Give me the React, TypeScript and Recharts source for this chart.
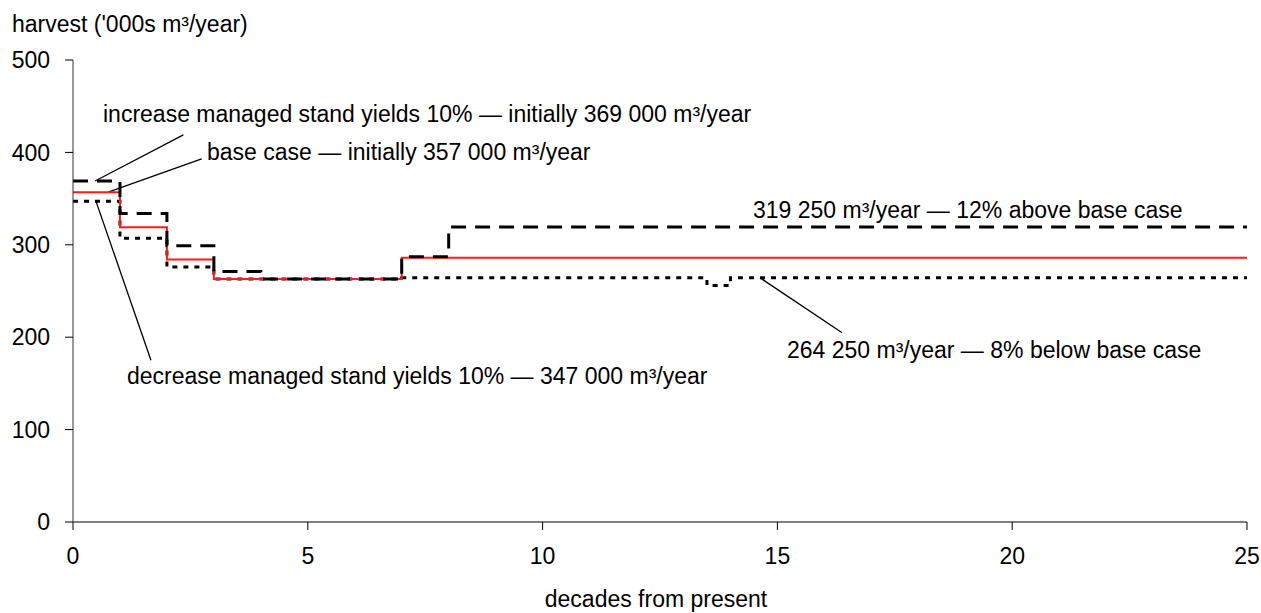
import React from "react";
import {
  LineChart,
  Line,
  XAxis,
  YAxis,
  ReferenceLine,
} from "recharts";

// decades from present where any scenario changes level
const decades = [0, 1, 2, 3, 4, 7, 8, 13.5, 14, 25];
const baseCase = [357, 319, 284, 263, 263, 286, 286, 286, 286, 286];
const increaseYields = [369, 334, 299, 271, 263, 287, 319.25, 319.25, 319.25, 319.25];
const decreaseYields = [347, 307, 276, 263, 263, 264.25, 264.25, 256, 264.25, 264.25];

const xTicks = [0, 5, 10, 15, 20, 25];
const yTicks = [0, 100, 200, 300, 400, 500];

// leader lines: [from point on series, to label]
const leaders = [
  [{ x: 0.47, y: 369 }, { x: 2.35, y: 419 }],
  [{ x: 0.75, y: 357 }, { x: 2.74, y: 393 }],
  [{ x: 0.49, y: 347 }, { x: 1.66, y: 175 }],
  [{ x: 14.63, y: 264.25 }, { x: 16.37, y: 205 }],
];

const data = decades.map((d, i) => ({
  x: d,
  base: baseCase[i],
  inc: increaseYields[i],
  dec: decreaseYields[i],
}));

const FONT = '"Liberation Sans", Arial, sans-serif';
const FS = 23;

const App: React.FC = () => {
  const tick = { fontSize: FS, fill: "#000", fontFamily: FONT };
  return (
    <div style={{ position: "absolute", left: 0, top: 0, width: 1261, height: 613, background: "#fff" }}>
      <LineChart
        width={1261}
        height={613}
        data={data}
        margin={{ top: 60, right: 14, bottom: 0, left: 0 }}
      >
        <XAxis
          type="number"
          dataKey="x"
          domain={[0, 25]}
          ticks={xTicks}
          tick={tick}
          tickSize={8}
          tickMargin={18}
          height={91}
          axisLine={{ stroke: "#000" }}
          tickLine={{ stroke: "#000" }}
        />
        <YAxis
          type="number"
          domain={[0, 500]}
          ticks={yTicks}
          tick={tick}
          tickSize={8}
          tickMargin={15}
          width={73}
          axisLine={{ stroke: "#333" }}
          tickLine={{ stroke: "#000" }}
        />
        {leaders.map((seg, i) => (
          <ReferenceLine
            key={`leader-${i}`}
            segment={seg}
            stroke="#000"
            strokeWidth={1.3}
            ifOverflow="visible"
          />
        ))}
        <Line
          type="stepAfter"
          dataKey="dec"
          stroke="#000"
          strokeWidth={3}
          strokeDasharray="5 6"
          dot={false}
          isAnimationActive={false}
        />
        <Line
          type="stepAfter"
          dataKey="base"
          stroke="#ff1a1a"
          strokeWidth={2}
          dot={false}
          isAnimationActive={false}
        />
        <Line
          type="stepAfter"
          dataKey="inc"
          stroke="#000"
          strokeWidth={3}
          strokeDasharray="15 9"
          dot={false}
          isAnimationActive={false}
        />
      </LineChart>
      <svg
        width={1261}
        height={613}
        style={{ position: "absolute", left: 0, top: 0, pointerEvents: "none" }}
        fontFamily={FONT}
        fontSize={FS}
        fill="#000"
      >
        <text x={12} y={32}>harvest ('000s m³/year)</text>
        <text x={656} y={607} textAnchor="middle">decades from present</text>
        <text x={103} y={122}>increase managed stand yields 10% — initially 369 000 m³/year</text>
        <text x={207} y={160}>base case — initially 357 000 m³/year</text>
        <text x={127} y={384}>decrease managed stand yields 10% — 347 000 m³/year</text>
        <text x={753} y={218}>319 250 m³/year — 12% above base case</text>
        <text x={787} y={358}>264 250 m³/year — 8% below base case</text>
      </svg>
    </div>
  );
};

export default App;
